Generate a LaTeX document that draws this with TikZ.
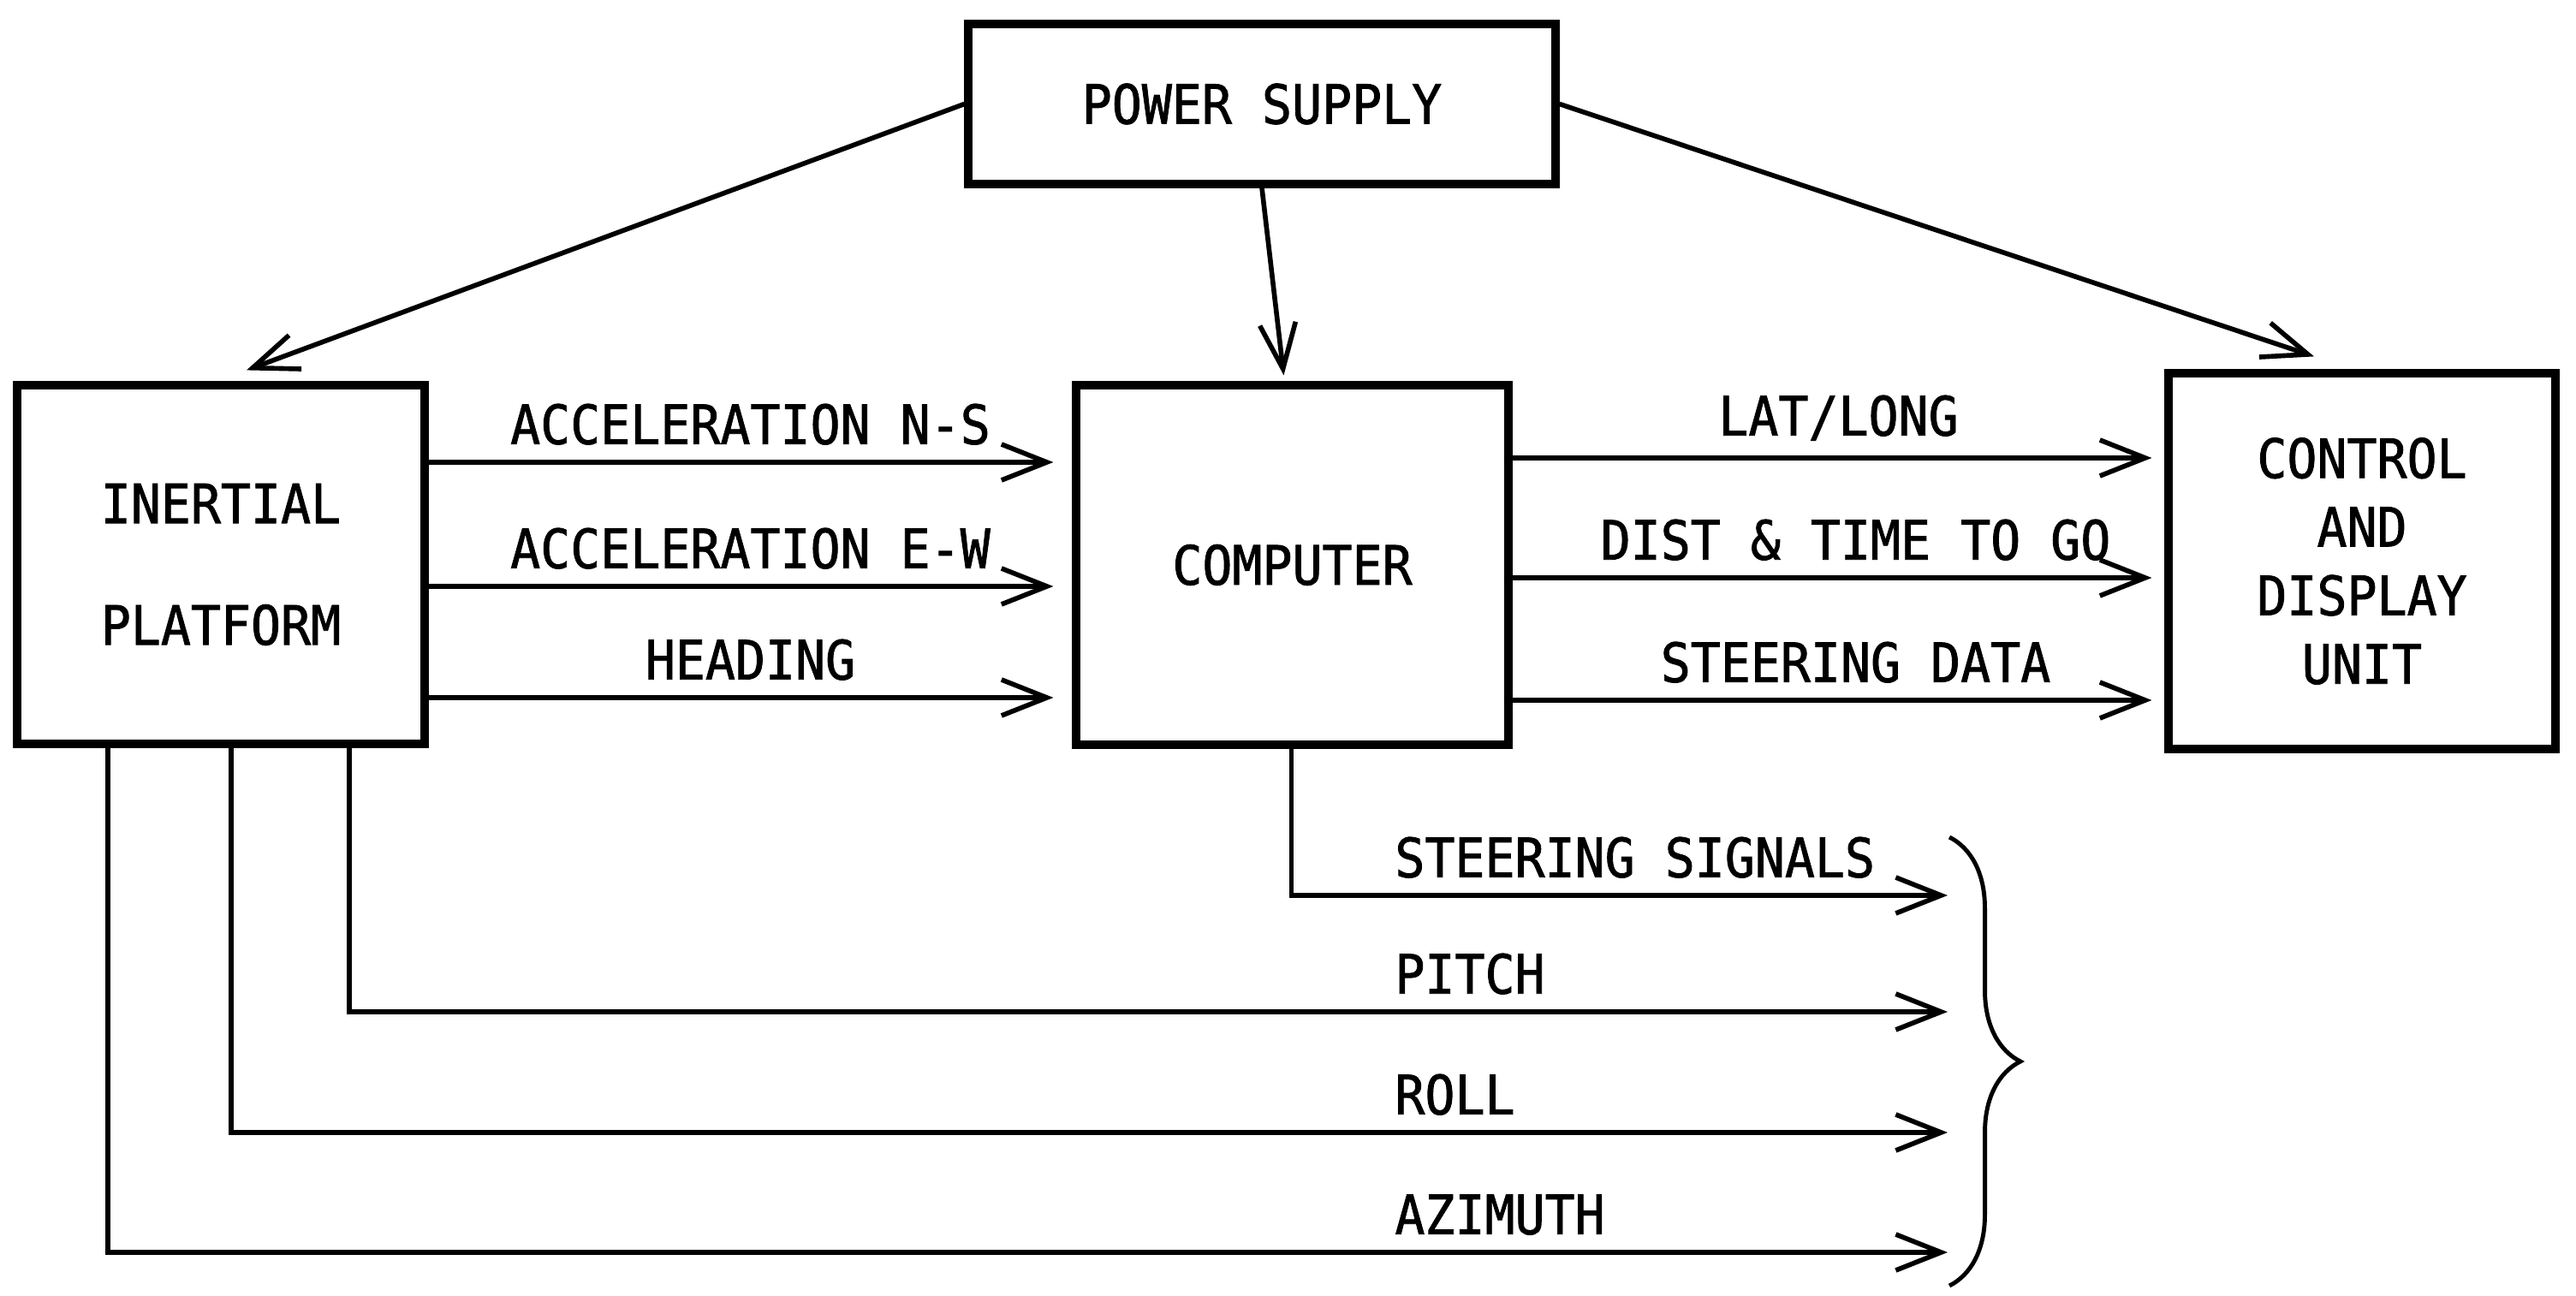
\documentclass[tikz,border=0pt]{standalone}
\usepackage{fontspec}
\setmainfont{DejaVu Sans Mono}[FakeStretch=0.92, FakeBold=1.3]
\usetikzlibrary{arrows.meta,decorations.pathreplacing}

\tikzset{
  unit/.style={draw, line width=2.6pt, align=center, inner sep=0pt},
  lbl/.style={inner sep=5pt},
}

\begin{document}
\begin{tikzpicture}[>={Straight Barb[length=5.3mm,width=4.2mm]}, line width=1.6pt,
    font=\fontsize{18}{22.8}\selectfont]
  \useasboundingbox (0,0) rectangle (30.09,15.13);

  \node[unit, minimum width=6.86cm, minimum height=1.87cm] (power) at (14.74,13.915) {POWER SUPPLY};
  \node[unit, minimum width=4.76cm, minimum height=4.19cm] (inertial) at (2.58,8.535) {INERTIAL\\[17.6pt]PLATFORM};
  \node[unit, minimum width=5.05cm, minimum height=4.2cm] (computer) at (15.095,8.53) {COMPUTER};
  \node[unit, minimum width=4.52cm, minimum height=4.39cm] (control) at (27.59,8.575) {CONTROL\\AND\\DISPLAY\\UNIT};

  % power feeds
  \draw[->] (power.west) -- ([xshift=0.3cm,yshift=0.13cm]inertial.north);
  \draw[->] (power.south) -- ([xshift=-0.1cm,yshift=0.07cm]computer.north);
  \draw[->] (power.east) -- ([xshift=-0.56cm,yshift=0.15cm]control.north);

  % platform to computer
  \draw[->, shorten >=2.2mm] ([yshift=1.195cm]inertial.east) -- node[lbl, above] {ACCELERATION N-S} ([yshift=1.2cm]computer.west);
  \draw[->, shorten >=2.2mm] ([yshift=-0.255cm]inertial.east) -- node[lbl, above] {ACCELERATION E-W} ([yshift=-0.25cm]computer.west);
  \draw[->, shorten >=2.2mm] ([yshift=-1.555cm]inertial.east) -- node[lbl, above] {HEADING} ([yshift=-1.55cm]computer.west);

  % computer to display
  \draw[->, shorten >=1.5mm] ([yshift=1.25cm]computer.east) -- node[lbl, above] {LAT/LONG} ([yshift=1.205cm]control.west);
  \draw[->, shorten >=1.5mm] ([yshift=-0.15cm]computer.east) -- node[lbl, above, xshift=0.2cm] {DIST \& TIME TO GO} ([yshift=-0.195cm]control.west);
  \draw[->, shorten >=1.5mm] ([yshift=-1.58cm]computer.east) -- node[lbl, above, xshift=0.2cm] {STEERING DATA} ([yshift=-1.625cm]control.west);

  % outputs
  \coordinate (sigend) at (22.75,4.67);
  \coordinate (pitchend) at (22.75,3.31);
  \coordinate (rollend) at (22.75,1.90);
  \coordinate (aziend) at (22.75,0.50);

  \draw[->] ([xshift=-0.01cm]computer.south) |- (sigend);
  \draw[->] ([xshift=1.5cm]inertial.south) |- (pitchend);
  \draw[->] ([xshift=0.12cm]inertial.south) |- (rollend);
  \draw[->] ([xshift=-1.32cm]inertial.south) |- (aziend);

  \node[lbl, anchor=south west] (tsig) at (16.09,4.67) {STEERING SIGNALS};
  \node[lbl, anchor=south west] (tpitch) at (16.09,3.31) {PITCH};
  \node[lbl, anchor=south west] (troll) at (16.09,1.90) {ROLL};
  \node[lbl, anchor=south west] (tazi) at (16.09,0.50) {AZIMUTH};

  \draw[line width=1.4pt, decorate, decoration={brace, amplitude=0.83cm, aspect=0.5}] (22.77,5.35) -- (22.77,0.11);
\end{tikzpicture}
\end{document}
